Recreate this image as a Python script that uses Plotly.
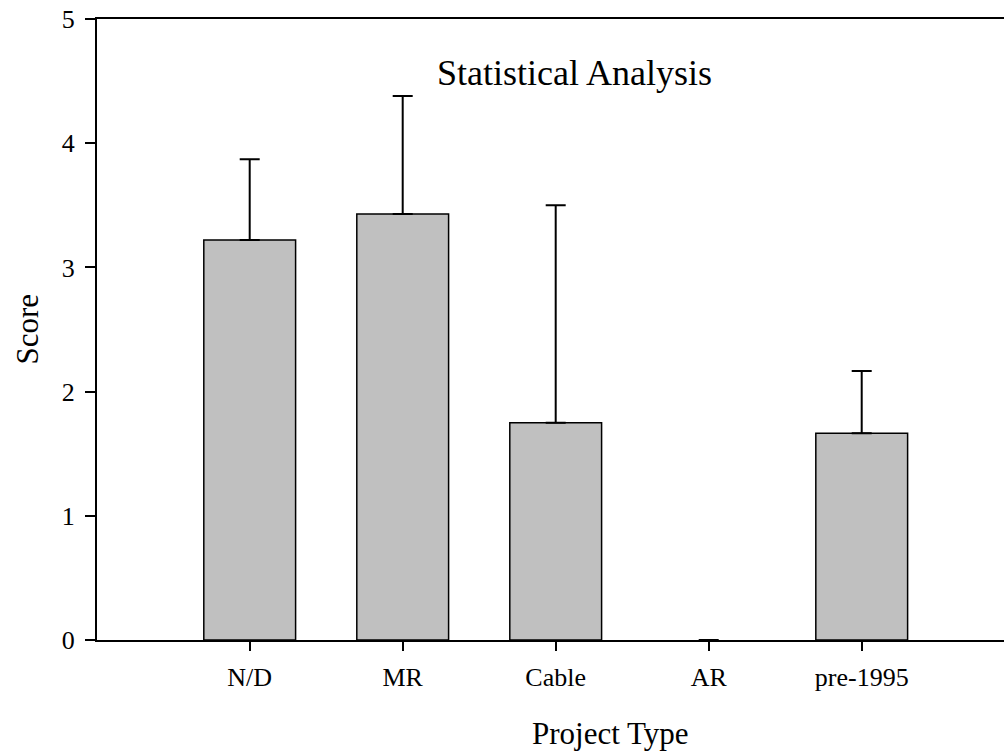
import plotly.graph_objects as go

categories = ["N/D", "MR", "Cable", "AR", "pre-1995"]
means = [3.22, 3.43, 1.75, 0.0, 1.665]
errors_up = [0.65, 0.95, 1.75, 0.0, 0.50]
y_ticks = [0, 1, 2, 3, 4, 5]

W, H = 1004, 751
L, R, T, B = 97, 0, 19, 111
pw, ph = W - L - R, H - T - B

def px_x(x):
    return (x - L) / pw

def px_y(y):
    return (H - B - y) / ph

FONT = "Liberation Serif"

outline_w = [1.5 if m > 0 else 0 for m in means]
err_plot = [e if e > 0 else None for e in errors_up]
err_minus = [0 if e > 0 else None for e in errors_up]

fig = go.Figure()
fig.add_trace(go.Bar(
    x=list(range(len(categories))),
    y=means,
    width=0.6,
    marker=dict(color="#c0c0c0", line=dict(color="black", width=outline_w)),
    error_y=dict(type="data", symmetric=False, array=err_plot,
                 arrayminus=err_minus, color="black",
                 thickness=2, width=10, visible=True),
    showlegend=False,
))

fig.update_layout(
    width=W, height=H,
    margin=dict(l=L, r=R, t=T, b=B, pad=0),
    plot_bgcolor="white", paper_bgcolor="white",
    font=dict(family=FONT, size=26, color="black"),
    xaxis=dict(
        range=[-0.998, 4.93],
        tickmode="array", tickvals=list(range(len(categories))), ticktext=categories,
        showline=True, linecolor="black", linewidth=2, mirror=True,
        ticks="outside", ticklen=9, tickwidth=2, tickcolor="black",
        ticklabelstandoff=4,
        showgrid=False, zeroline=False,
        tickfont=dict(family=FONT, size=26),
    ),
    yaxis=dict(
        range=[0, 5],
        tickmode="array", tickvals=y_ticks,
        showline=True, linecolor="black", linewidth=2, mirror=False,
        ticks="outside", ticklen=10, tickwidth=2, tickcolor="black",
        ticklabelstandoff=5,
        showgrid=False, zeroline=False,
        tickfont=dict(family=FONT, size=26),
    ),
    annotations=[
        dict(text="Statistical Analysis", x=px_x(574), y=px_y(73), xref="paper", yref="paper",
             showarrow=False, font=dict(family=FONT, size=36), xanchor="center", yanchor="middle"),
        dict(text="Project Type", x=px_x(610), y=px_y(733), xref="paper", yref="paper",
             showarrow=False, font=dict(family=FONT, size=31), xanchor="center", yanchor="middle"),
        dict(text="Score", x=px_x(27), y=0.5, xref="paper", yref="paper", textangle=-90,
             showarrow=False, font=dict(family=FONT, size=31), xanchor="center", yanchor="middle"),
    ],
)

fig.write_html("out.html", config={"displayModeBar": False},
               post_script="document.body.style.margin='0px';")
